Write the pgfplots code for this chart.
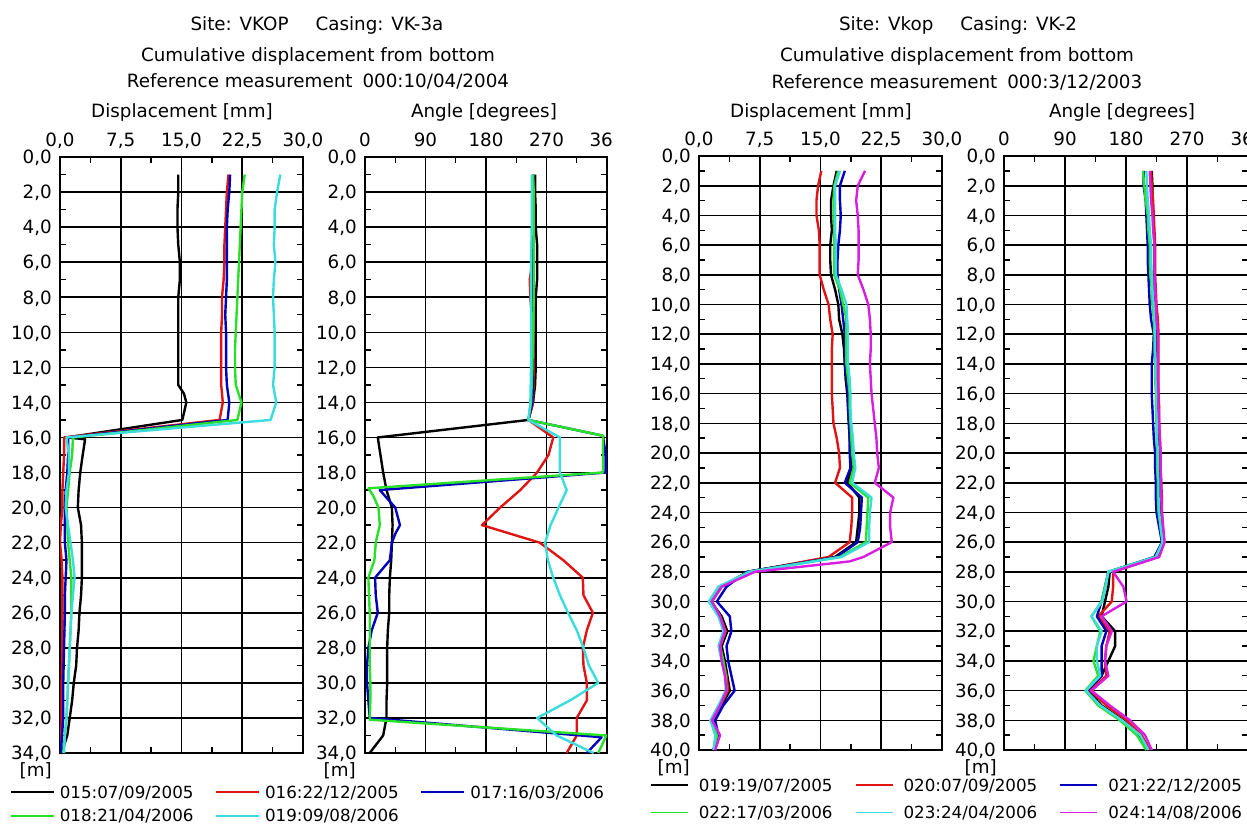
\documentclass[border=0pt]{standalone}
\usepackage{fontspec}
\setmainfont{DejaVu Sans}
\usepackage{pgfplots}
\pgfplotsset{compat=1.18}
\newcommand\fs{\fontsize{18.3pt}{21pt}\selectfont}
\newcommand\fl{\fontsize{16.7pt}{19pt}\selectfont}
\definecolor{cblack}{RGB}{0,0,0}
\definecolor{cred}{RGB}{225,20,20}
\definecolor{cblue}{RGB}{0,0,190}
\definecolor{cgreen}{RGB}{40,225,40}
\definecolor{ccyan}{RGB}{60,220,220}
\definecolor{cmag}{RGB}{215,30,225}
\pgfplotsset{
  /pgf/number format/assume math mode=true,
  incl/.style={
    scale only axis, anchor=north west, y dir=reverse,
    axis line style={line width=1.8pt},
    grid=major, major grid style={black,line width=1.6pt},
    major tick style={black,line width=1.4pt},
    minor tick style={black,line width=1.4pt},
    major tick length=6pt, minor tick length=6pt, tick align=inside,
    minor x tick num=1, minor y tick num=1,
    xticklabel pos=right,
    tick label style={font=\fs},
    xticklabel style={inner sep=0pt, text depth=0pt, yshift=10pt},
    yticklabel style={inner sep=0pt, text depth=0pt, xshift=-8pt,
      /pgf/number format/.cd, fixed, fixed zerofill, precision=1, use comma},
    every axis plot/.append style={line width=2.4pt, line join=round},
    legend cell align=left,
  },
  disp/.style={incl, xmin=0, xmax=30, xtick={0,7.5,15,22.5,30},
    xticklabel style={/pgf/number format/.cd, fixed, fixed zerofill, precision=1, use comma}},
  ang/.style={incl, xmin=0, xmax=360, xtick={0,90,180,270,360}},
}
\begin{document}
\begin{tikzpicture}
\useasboundingbox (0pt,0pt) rectangle (1247pt,-826pt);
% ================= LEFT FIGURE =================
\begin{scope}
\clip (0pt,0pt) rectangle (612pt,-826pt);
\node[font=\fs, anchor=base, inner sep=0pt] at (317pt,-31pt) {Site: VKOP\hspace{27pt}Casing: VK-3a};
\node[font=\fs, anchor=base, inner sep=0pt] at (318pt,-61.5pt) {Cumulative displacement from bottom};
\node[font=\fs, anchor=base, inner sep=0pt] at (318pt,-88pt) {Reference measurement\hspace{10pt}000:10/04/2004};
\node[font=\fs, anchor=base, inner sep=0pt] at (182pt,-118pt) {Displacement [mm]};
\node[font=\fs, anchor=base, inner sep=0pt] at (484pt,-118pt) {Angle [degrees]};
\node[font=\fs, anchor=base east, inner sep=0pt] at (52pt,-776pt) {[m]};
\node[font=\fs, anchor=base east, inner sep=0pt] at (356pt,-776pt) {[m]};

\begin{axis}[disp, at={(60pt,-157pt)}, width=243pt, height=596pt,
  ymin=0, ymax=34, ytick={0,2,...,34},
  legend columns=3,
  legend image code/.code={\draw[#1, line width=1.8pt] (0pt,0pt) -- (43pt,0pt);},
  legend style={draw=none, fill=none, inner sep=0pt, outer sep=0pt, font=\fl,
    row sep=11pt, at={(axis description cs:-0.2058,-0.0554)}, anchor=north west,
    nodes={inner sep=0pt, text depth=0pt},
    /tikz/every odd column/.append style={column sep=5pt},
    /tikz/every even column/.append style={column sep=21.7pt}},
]
\addplot[cblack] coordinates {(14.6,1)(14.6,2)(14.5,3)(14.5,4)(14.6,5)(14.8,6)(14.8,7)(14.6,8)(14.6,9)(14.6,10)(14.6,11)(14.6,12)(14.6,13)(15.3,13.5)(15.6,14)(15.1,15)(0.8,16)(3.1,16.1)(2.8,17)(2.5,18)(2.3,19)(2.2,20)(2.6,21)(2.7,22)(2.7,23)(2.7,24)(2.6,25)(2.4,26)(2.3,27)(2.1,28)(2.0,29)(1.7,30)(1.5,31)(1.2,32)(0.9,33)(0.2,34)};
\addlegendentry{015:07/09/2005}
\addplot[cred] coordinates {(20.8,1)(20.6,2)(20.5,3)(20.4,4)(20.3,5)(20.3,6)(20.2,7)(20.0,8)(20.0,9)(19.9,10)(19.9,11)(19.9,12)(19.9,13)(20.1,14)(19.7,15)(0.5,16)(0.5,17)(0.4,18)(0.3,19)(0.3,20)(0.1,21)(0.0,22)(0.2,23)(0.3,24)(0.3,26)(0.3,28)(0.2,30)(0.2,32)(0.1,34)};
\addlegendentry{016:22/12/2005}
\addplot[cblue] coordinates {(21.0,1)(20.9,2)(20.7,3)(20.6,4)(20.6,5)(20.6,6)(20.6,7)(20.5,8)(20.4,9)(20.5,10)(20.5,11)(20.5,12)(20.6,13)(20.9,14)(20.7,15)(1.0,16)(1.0,17)(0.9,18)(0.7,19)(0.6,20)(0.6,21)(0.6,22)(0.8,23)(0.7,24)(0.6,25)(0.6,26)(0.5,28)(0.4,30)(0.4,32)(0.1,34)};
\addlegendentry{017:16/03/2006}
\addplot[cgreen] coordinates {(22.8,1)(22.5,2)(22.4,3)(22.3,4)(22.2,5)(22.1,6)(22.0,7)(21.9,8)(21.8,9)(21.7,10)(21.6,11)(21.6,12)(21.7,13)(22.4,14)(21.9,15)(1.6,16)(1.5,17)(1.2,18)(1.0,19)(0.8,20)(0.9,21)(1.0,22)(1.2,23)(1.4,24)(1.4,25)(1.4,26)(1.3,27)(1.2,28)(1.1,29)(1.0,30)(0.9,31)(0.8,32)(0.6,33)(0.4,34)};
\addlegendentry{018:21/04/2006}
\addplot[ccyan] coordinates {(27.2,1)(26.8,2)(26.5,3)(26.5,4)(26.4,5)(26.6,6)(26.4,7)(26.3,8)(26.4,9)(26.5,10)(26.5,11)(26.5,12)(26.3,13)(26.7,14)(26.0,15)(0.8,16)(1.1,17)(1.1,18)(0.8,19)(0.7,20)(1.0,21)(1.3,22)(1.6,23)(1.8,24)(1.6,25)(1.4,26)(1.3,27)(1.2,28)(1.1,29)(1.0,30)(0.9,31)(0.8,32)(0.6,33)(0.5,34)};
\addlegendentry{019:09/08/2006}
\end{axis}

\begin{axis}[ang, at={(365pt,-157pt)}, width=242pt, height=596pt,
  ymin=0, ymax=34, ytick={0,2,...,34}]
\addplot[cblack] coordinates {(253,1)(253,2)(254,3)(254,4)(256,5)(256,6)(256,7)(254,8)(254,10)(254,12)(253,13)(250,14)(243,15)(19,16)(23,17)(27,18)(32,19)(40,20)(41,21)(40,22)(39,23)(37,24)(36,25)(36,26)(34,27)(33,28)(33,29)(33,30)(32,31)(32,32)(27,33)(7,34)};
\addplot[cred] coordinates {(250,1)(250,2)(250,4)(249,6)(245,7)(246,8)(250,10)(251,12)(250,14)(243,15)(280,16)(273,17)(256,18)(231,19)(201,20)(174,21)(260,22)(295,23)(324,24)(325,25)(339,26)(330,27)(324,28)(325,29)(330,30)(330,31)(315,32)(315,33)(300,34)};
\addplot[cblue] coordinates {(250,1)(250,2)(250,4)(250,6)(250,8)(250,10)(250,12)(249,14)(243,15)(354,15.9)(358,17)(358,18)(22,19)(45,20)(52,21)(45,21.5)(40,22)(37,23)(15,24)(16,25)(19,26)(10,27)(5,28)(3,29)(3,30)(5,31)(7,32)(352,33.1)(330,34)};
\addplot[cgreen] coordinates {(250,1)(251,2)(251,4)(251,6)(251,8)(250,10)(249,12)(247,14)(243,15)(354,15.9)(354,17)(354,18)(5,18.9)(12,19.3)(20,20)(22,21)(16,22)(14,23)(5,24)(6,25)(7,26)(7,27)(7,28)(7,29)(8,30)(8,31)(7,32.1)(359,33)(347,34)};
\addplot[ccyan] coordinates {(248,1)(248,2)(248,4)(247,6)(247,8)(247,10)(247,12)(246,14)(243,15)(290,16)(290,17)(290,18)(300,19)(288,20)(276,21)(268,22)(272,23)(280,24)(290,25)(302,26)(315,27)(325,28)(333,29)(347,30)(305,31)(256,32)(285,33)(340,34)};
\end{axis}
\end{scope}

% ================= RIGHT FIGURE =================
\node[font=\fs, anchor=base, inner sep=0pt] at (958pt,-31pt) {Site: Vkop\hspace{27pt}Casing: VK-2};
\node[font=\fs, anchor=base, inner sep=0pt] at (957pt,-62pt) {Cumulative displacement from bottom};
\node[font=\fs, anchor=base, inner sep=0pt] at (957pt,-89pt) {Reference measurement\hspace{10pt}000:3/12/2003};
\node[font=\fs, anchor=base, inner sep=0pt] at (821pt,-118pt) {Displacement [mm]};
\node[font=\fs, anchor=base, inner sep=0pt] at (1122pt,-118pt) {Angle [degrees]};
\node[font=\fs, anchor=base east, inner sep=0pt] at (690pt,-773pt) {[m]};
\node[font=\fs, anchor=base east, inner sep=0pt] at (997pt,-773pt) {[m]};

\begin{axis}[disp, at={(699pt,-156pt)}, width=243pt, height=594pt,
  ymin=0, ymax=40, ytick={0,2,...,40},
  legend columns=3,
  legend image code/.code={\draw[#1, line width=1.8pt] (0pt,0pt) -- (37pt,0pt);},
  legend style={draw=none, fill=none, inner sep=0pt, outer sep=0pt, font=\fl,
    row sep=15pt, at={(axis description cs:-0.2016,-0.0488)}, anchor=north west,
    nodes={inner sep=0pt, text depth=0pt},
    /tikz/every odd column/.append style={column sep=10pt},
    /tikz/every even column/.append style={column sep=22.2pt}},
]
\addplot[cblack] coordinates {(17.0,1)(16.6,2)(16.3,3)(16.3,4)(16.4,5)(16.2,6)(16.2,7)(16.3,8)(16.8,9)(17.2,10)(17.3,11)(17.7,12)(17.9,13)(18.0,14)(18.1,15)(18.3,16)(18.4,17)(18.5,18)(18.6,19)(18.8,20)(18.9,21)(18.3,22)(19.8,23)(19.8,24)(19.6,25)(19.4,26)(16.8,27)(6.0,28)(2.8,29)(1.5,30)(2.8,31)(3.5,32)(2.8,33)(3.2,34)(3.5,35)(3.8,36)(2.8,37)(1.8,38)(2.2,39)(1.8,40)};
\addlegendentry{019:19/07/2005}
\addplot[cred] coordinates {(15.1,1)(14.7,2)(14.5,3)(14.5,4)(14.8,5)(14.9,6)(14.9,7)(14.9,8)(15.4,9)(16.0,10)(16.2,11)(16.5,12)(16.4,13)(16.4,14)(16.4,15)(16.4,16)(16.5,17)(16.6,18)(17.0,19)(17.3,20)(17.4,21)(16.8,22)(18.9,23)(18.9,24)(18.8,25)(18.6,26)(16.0,27)(6.2,28)(2.6,29)(1.4,30)(2.6,31)(3.3,32)(2.6,33)(3.0,34)(3.4,35)(3.6,36)(2.6,37)(1.8,38)(2.4,39)(1.8,40)};
\addlegendentry{020:07/09/2005}
\addplot[cblue] coordinates {(18.0,1)(17.4,2)(17.4,3)(17.5,4)(17.4,5)(17.2,6)(17.1,7)(17.1,8)(17.3,9)(17.6,10)(17.8,11)(18.0,12)(18.0,13)(18.0,14)(18.2,15)(18.4,16)(18.4,17)(18.5,18)(18.6,19)(18.6,20)(18.7,21)(18.0,22)(20.1,23)(20.0,24)(19.9,25)(19.6,26)(17.0,27)(5.9,28)(3.4,29)(2.2,30)(3.8,31)(4.0,32)(3.4,33)(3.6,34)(4.0,35)(4.4,36)(3.0,37)(2.0,38)(2.4,39)(1.8,40)};
\addlegendentry{021:22/12/2005}
\addplot[cgreen] coordinates {(17.2,1)(16.7,2)(16.6,3)(16.6,4)(16.7,5)(16.7,6)(16.7,7)(16.7,8)(17.4,9)(17.8,10)(18.2,11)(18.2,12)(18.2,13)(18.2,14)(18.4,15)(18.6,16)(18.6,17)(18.7,18)(18.8,19)(18.9,20)(19.1,21)(18.6,22)(20.9,23)(20.8,24)(20.7,25)(20.6,26)(17.4,27)(6.2,28)(2.8,29)(1.6,30)(2.6,31)(3.2,32)(2.6,33)(3.0,34)(3.3,35)(3.4,36)(2.6,37)(1.6,38)(2.2,39)(2.0,40)};
\addlegendentry{022:17/03/2006}
\addplot[ccyan] coordinates {(17.4,1)(16.8,2)(16.8,3)(16.8,4)(16.8,5)(16.9,6)(16.9,7)(16.9,8)(17.6,9)(18.2,10)(18.3,11)(18.4,12)(18.4,13)(18.4,14)(18.6,15)(18.7,16)(18.7,17)(18.8,18)(19.0,19)(19.1,20)(19.3,21)(18.9,22)(21.3,23)(21.1,24)(21.0,25)(21.0,26)(17.6,27)(6.2,28)(2.4,29)(1.2,30)(2.4,31)(3.0,32)(2.4,33)(2.8,34)(3.2,35)(3.3,36)(2.4,37)(1.4,38)(2.0,39)(1.8,40)};
\addlegendentry{023:24/04/2006}
\addplot[cmag] coordinates {(20.5,1)(19.6,2)(19.4,3)(19.6,4)(19.7,5)(19.7,6)(19.7,7)(19.6,8)(20.3,9)(20.9,10)(21.1,11)(21.2,12)(21.2,13)(21.1,14)(21.2,15)(21.3,16)(21.5,17)(21.7,18)(21.9,19)(22.0,20)(22.2,21)(21.7,22)(24.0,23)(23.6,24)(23.6,25)(23.8,26)(20.3,27)(18.6,27.3)(6.9,28)(2.8,29)(1.6,30)(2.6,31)(3.2,32)(2.6,33)(2.8,34)(3.2,35)(3.4,36)(2.6,37)(1.6,38)(2.6,39)(2.0,40)};
\addlegendentry{024:14/08/2006}
\end{axis}

\begin{axis}[ang, at={(1004pt,-156pt)}, width=244pt, height=594pt,
  ymin=0, ymax=40, ytick={0,2,...,40}]
\addplot[cblack] coordinates {(218,1)(219,2)(219,3)(220,4)(221,5)(222,6)(222,7)(222,8)(222,9)(223,10)(224,11)(225,12)(225,13)(226,14)(226,15)(226,16)(227,17)(227,18)(228,19)(228,20)(229,21)(229,22)(230,23)(230,24)(232,25)(235,26)(226,27)(156,28)(154,29)(149,30)(144,31)(164,32)(164,33)(154,34)(144,35)(124,36)(144,37)(176,38)(201,39)(213,40)};
\addplot[cred] coordinates {(217,1)(218,2)(220,3)(221,4)(222,5)(223,6)(223,7)(223,8)(224,9)(225,10)(227,11)(228,12)(228,13)(228,14)(228,15)(228,16)(229,17)(229,18)(230,19)(231,20)(231,21)(232,22)(233,23)(233,24)(234,25)(236,26)(228,27)(161,28)(161,29)(159,30)(139,31)(156,32)(151,33)(149,34)(151,35)(127,36)(151,37)(181,38)(203,39)(215,40)};
\addplot[cblue] coordinates {(206,1)(206,2)(209,3)(210,4)(211,5)(212,6)(212,7)(213,8)(214,9)(215,10)(217,11)(221,12)(220,13)(218,14)(218,15)(218,16)(219,17)(220,18)(221,19)(223,20)(223,21)(224,22)(224,23)(225,24)(229,25)(233,26)(222,27)(154,28)(149,29)(144,30)(137,31)(151,32)(144,33)(144,34)(144,35)(122,36)(142,37)(174,38)(198,39)(210,40)};
\addplot[cgreen] coordinates {(205,1)(207,2)(209,3)(212,4)(213,5)(215,6)(215,7)(216,8)(218,9)(219,10)(221,11)(222,12)(222,13)(223,14)(223,15)(224,16)(224,17)(225,18)(225,19)(226,20)(226,21)(227,22)(227,23)(228,24)(231,25)(234,26)(224,27)(154,28)(149,29)(144,30)(129,31)(142,32)(137,33)(132,34)(139,35)(120,36)(139,37)(171,38)(196,39)(210,40)};
\addplot[ccyan] coordinates {(210,1)(211,2)(212,3)(214,4)(215,5)(217,6)(217,7)(218,8)(219,9)(221,10)(222,11)(223,12)(223,13)(224,14)(224,15)(225,16)(225,17)(226,18)(226,19)(227,20)(227,21)(228,22)(228,23)(229,24)(231,25)(234,26)(224,27)(154,28)(150,29)(145,30)(129,31)(144,32)(137,33)(137,34)(142,35)(121,36)(142,37)(174,38)(201,39)(213,40)};
\addplot[cmag] coordinates {(215,1)(216,2)(217,3)(219,4)(220,5)(222,6)(222,7)(222,8)(223,9)(224,10)(225,11)(227,12)(227,13)(227,14)(227,15)(228,16)(228,17)(229,18)(230,19)(231,20)(231,21)(232,22)(232,23)(233,24)(235,25)(237,26)(229,27)(161,28)(176,29)(181,30)(166,30.4)(144,31)(159,32)(151,33)(149,34)(154,35)(129,36)(156,37)(186,38)(208,39)(218,40)};
\end{axis}
\end{tikzpicture}
\end{document}
